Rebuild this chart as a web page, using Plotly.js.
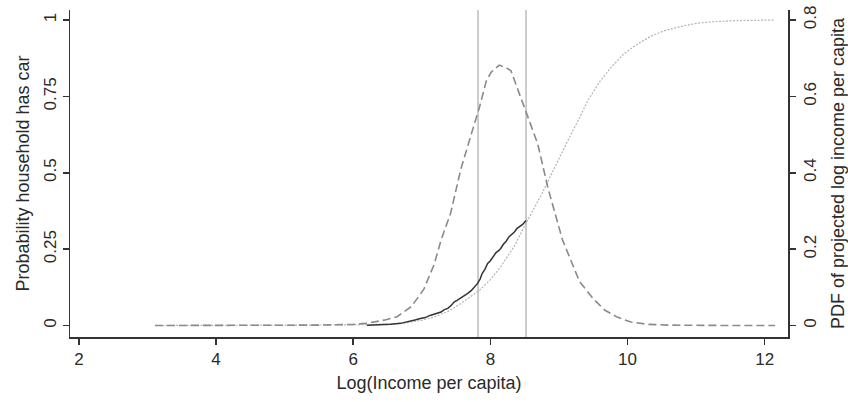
<!DOCTYPE html>
<html>
<head>
<meta charset="utf-8">
<script src="https://cdn.plot.ly/plotly-3.0.1.min.js"></script>
<style>html,body{margin:0;padding:0;background:#fff;}#chart{width:848px;height:402px;}</style>
</head>
<body>
<div id="chart"></div>
<script>
// Dashed: PDF of projected log income per capita (right axis)
const pdfX = [3.11, 4, 5, 5.5, 6.0, 6.2, 6.45, 6.64, 6.85, 7.03, 7.18, 7.28, 7.42, 7.57, 7.72, 7.84, 7.94, 8.01, 8.13, 8.23, 8.30, 8.37, 8.53, 8.69, 8.84, 9.05, 9.30, 9.50, 9.67, 9.85, 10.05, 10.3, 10.6, 11, 11.5, 12.15];
const pdfY = [0, 0, 0, 0.001, 0.003, 0.006, 0.014, 0.023, 0.05, 0.095, 0.16, 0.223, 0.294, 0.41, 0.50, 0.571, 0.64, 0.663, 0.682, 0.675, 0.667, 0.632, 0.554, 0.476, 0.36, 0.225, 0.115, 0.07, 0.04, 0.022, 0.009, 0.003, 0.001, 0, 0, 0];

// Dotted: fitted probability household has car (left axis)
const fitX = [3.11, 4, 5, 5.5, 6.0, 6.4, 6.69, 7.0, 7.18, 7.4, 7.57, 7.84, 8.0, 8.15, 8.35, 8.54, 8.74, 8.9, 9.05, 9.18, 9.3, 9.42, 9.6, 9.76, 9.95, 10.15, 10.35, 10.54, 10.8, 11.03, 11.3, 11.61, 12.15];
const fitY = [0, 0, 0.0005, 0.001, 0.002, 0.004, 0.0065, 0.017, 0.028, 0.048, 0.072, 0.115, 0.15, 0.192, 0.26, 0.344, 0.426, 0.50, 0.57, 0.628, 0.68, 0.736, 0.80, 0.845, 0.89, 0.922, 0.948, 0.965, 0.98, 0.99, 0.995, 0.998, 1.0];

// Solid: observed probability household has car (left axis)
const obsX = [6.2, 6.4, 6.55, 6.69, 6.8, 6.9, 6.98, 7.05, 7.12, 7.2, 7.28, 7.33, 7.38, 7.43, 7.47, 7.52, 7.57, 7.62, 7.67, 7.72, 7.77, 7.81, 7.85, 7.88, 7.92, 7.96, 8.0, 8.04, 8.08, 8.12, 8.15, 8.19, 8.23, 8.27, 8.31, 8.35, 8.39, 8.43, 8.47, 8.52];
const obsY = [0.001, 0.002, 0.004, 0.007, 0.012, 0.018, 0.023, 0.026, 0.033, 0.038, 0.044, 0.052, 0.056, 0.066, 0.077, 0.083, 0.09, 0.098, 0.105, 0.114, 0.125, 0.137, 0.152, 0.17, 0.184, 0.203, 0.212, 0.224, 0.238, 0.245, 0.252, 0.266, 0.276, 0.29, 0.298, 0.306, 0.318, 0.325, 0.331, 0.344];

// Vertical reference lines
const vLines = [7.82, 8.52];

const xTicks = [2, 4, 6, 8, 10, 12];
const yTicks = [0, 0.25, 0.5, 0.75, 1];
const yTickText = ['0', '0.25', '0.5', '0.75', '1'];
const y2Ticks = [0, 0.2, 0.4, 0.6, 0.8];
const y2TickText = ['0', '0.2', '0.4', '0.6', '0.8'];

const FONT = 'Liberation Sans, Arial, sans-serif';
const TXT = '#2a2a2a';

const traces = [
  {x: fitX, y: fitY, type: 'scatter', mode: 'lines', yaxis: 'y',
   line: {color: '#b4b4b4', width: 1.2, dash: '2px,1.5px'}, hoverinfo: 'skip'},
  {x: pdfX, y: pdfY, type: 'scatter', mode: 'lines', yaxis: 'y2',
   line: {color: '#8a8a8a', width: 1.6, dash: '8px,4px'}, hoverinfo: 'skip'},
  {x: obsX, y: obsY, type: 'scatter', mode: 'lines', yaxis: 'y',
   line: {color: '#333333', width: 1.5}, hoverinfo: 'skip'}
];

const shapes = vLines.map(v => ({
  type: 'line', xref: 'x', yref: 'paper', x0: v, x1: v, y0: 0, y1: 1,
  line: {color: '#a4acb4', width: 1.2}, layer: 'below'
}));

const layout = {
  width: 848, height: 402,
  margin: {l: 70, r: 60, t: 10, b: 65},
  paper_bgcolor: '#ffffff', plot_bgcolor: '#ffffff',
  showlegend: false,
  font: {family: FONT, color: TXT, size: 17},
  shapes: shapes,
  xaxis: {
    range: [1.87, 12.34], showgrid: false, zeroline: false,
    showline: true, linecolor: '#333', linewidth: 1.5,
    ticks: 'outside', ticklen: 6, tickwidth: 1.5, tickcolor: '#333',
    tickvals: xTicks, ticktext: xTicks.map(String),
    tickfont: {size: 17, family: FONT, color: TXT},
    title: {text: 'Log(Income per capita)', font: {size: 18, family: FONT, color: TXT}, standoff: 8}
  },
  yaxis: {
    range: [-0.0376, 1.0327], showgrid: false, zeroline: false,
    showline: true, linecolor: '#333', linewidth: 1.5,
    ticks: 'outside', ticklen: 6, tickwidth: 1.5, tickcolor: '#333',
    tickvals: yTicks, ticktext: yTickText, tickangle: -90,
    tickfont: {size: 17, family: FONT, color: TXT},
    title: {text: 'Probability household has car', font: {size: 18, family: FONT, color: TXT}, standoff: 6}
  },
  yaxis2: {
    overlaying: 'y', side: 'right',
    range: [-0.0301, 0.8262], showgrid: false, zeroline: false,
    showline: true, linecolor: '#333', linewidth: 1.5,
    ticks: 'outside', ticklen: 6, tickwidth: 1.5, tickcolor: '#333',
    tickvals: y2Ticks, ticktext: y2TickText, tickangle: -90,
    tickfont: {size: 17, family: FONT, color: TXT},
    title: {text: 'PDF of projected log income per capita', font: {size: 18, family: FONT, color: TXT}, standoff: 12}
  }
};

Plotly.newPlot('chart', traces, layout, {staticPlot: true, displayModeBar: false});
</script>
</body>
</html>
